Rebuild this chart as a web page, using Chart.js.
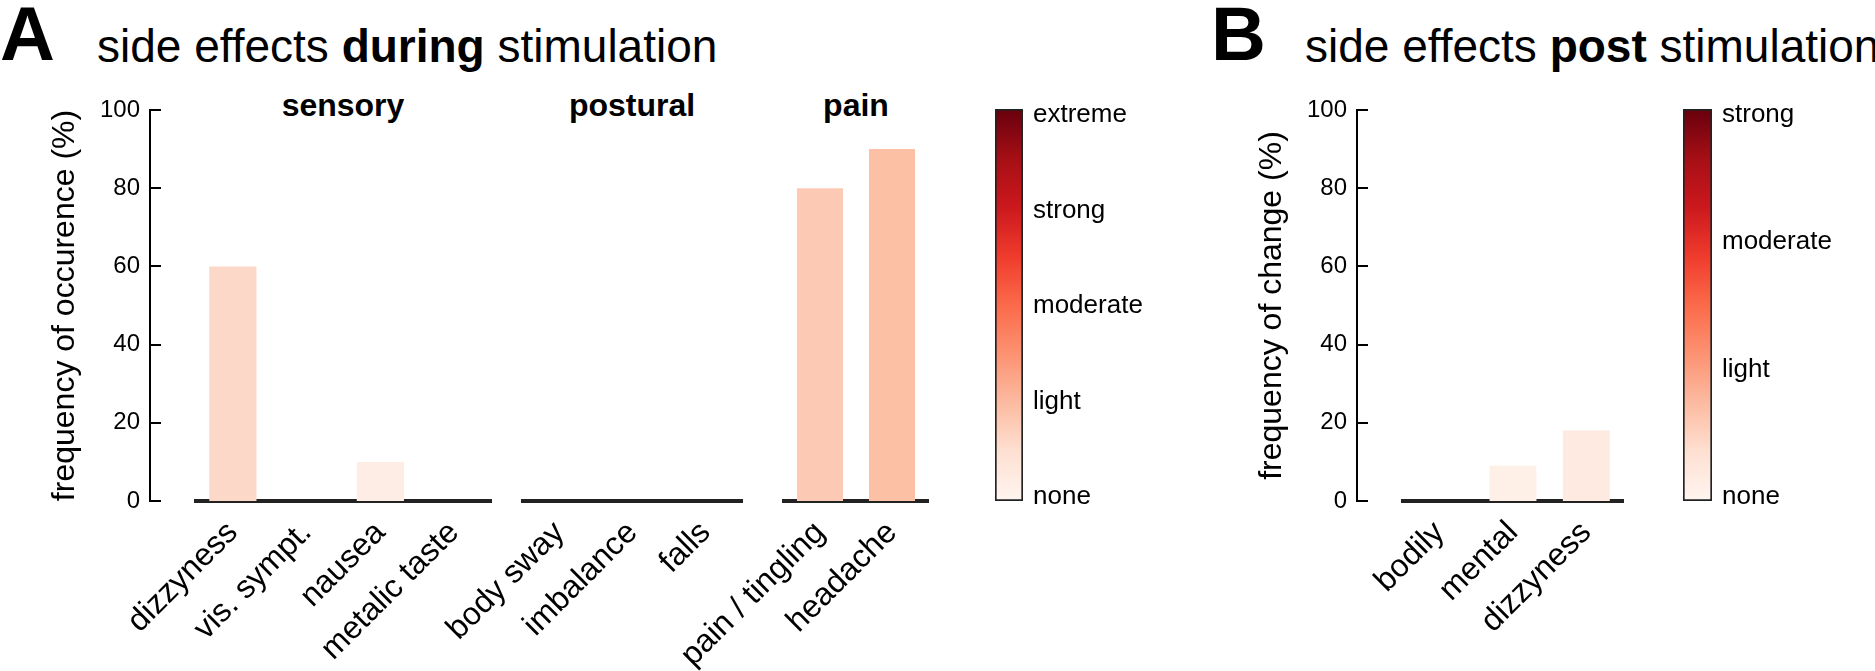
<!DOCTYPE html>
<html>
<head>
<meta charset="utf-8">
<script src="https://cdn.jsdelivr.net/npm/chart.js@4.4.1/dist/chart.umd.min.js"></script>
<style>
  body { margin: 0; background: #fff; }
  #fig { position: relative; width: 1875px; height: 671px; overflow: hidden;
         font-family: "Liberation Sans", Arial, sans-serif; color: #000; }
  #fig canvas { position: absolute; top: 0; }
  .t { position: absolute; line-height: 1; white-space: nowrap; }
  .big { font-size: 76px; font-weight: bold; top: -4px; }
  .ttl { font-size: 46px; top: 23px; }
  .hdr { font-size: 32px; font-weight: bold; top: 89px; transform: translateX(-50%); }
</style>
</head>
<body>
<div id="fig">
  <div class="t big" style="left:0px">A</div>
  <div class="t ttl" style="left:97px">side effects <b>during</b> stimulation</div>
  <div class="t big" style="left:1211px">B</div>
  <div class="t ttl" style="left:1305px">side effects <b>post</b> stimulation</div>
  <div class="t hdr" style="left:343px">sensory</div>
  <div class="t hdr" style="left:632px">postural</div>
  <div class="t hdr" style="left:856px">pain</div>

  <canvas id="aAxis"></canvas>
  <canvas id="aSensory"></canvas>
  <canvas id="aPostural"></canvas>
  <canvas id="aPain"></canvas>
  <canvas id="aBar"></canvas>
  <canvas id="bAxis"></canvas>
  <canvas id="bPost"></canvas>
  <canvas id="bBar"></canvas>
</div>

<script>
// data
const sensoryLabels = ["dizzyness", "vis. sympt.", "nausea", "metalic taste"];
const sensoryValues = [60, 0, 10, 0];
const posturalLabels = ["body sway", "imbalance", "falls"];
const posturalValues = [0, 0, 0];
const painLabels = ["pain / tingling", "headache"];
const painValues = [80, 90];
const postLabels = ["bodily", "mental", "dizzyness"];
const postValues = [0, 9, 18];
const yTicks = [0, 20, 40, 60, 80, 100];
const duringLevels = ["none", "light", "moderate", "strong", "extreme"];
const postLevels = ["none", "light", "moderate", "strong"];

// bar colours (severity on the Reds map)
const sensoryColors = ["#fcd8c8", "#fcd8c8", "#feede4", "#feede4"];
const posturalColors = ["#fff5f0", "#fff5f0", "#fff5f0"];
const painColors = ["#fccab4", "#fcc0a5"];
const postColors = ["#fff5f0", "#feefe7", "#feeae0"];
const reds = ["#fff5f0", "#fee0d2", "#fcbba1", "#fc9272", "#fb6a4a", "#ef3b2c", "#cb181d", "#a50f15", "#67000d"];

const FONT = '"Liberation Sans", Arial, sans-serif';
const H = 671, TOP = 110, BOTTOM = 501;
Chart.defaults.font.family = FONT;
Chart.defaults.color = "#000";

function place(id, left, width) {
    const c = document.getElementById(id);
    c.width = width;
    c.height = H;
    c.style.left = left + "px";
    return c;
}

const baseOpts = {
    responsive: false,
    animation: false,
    devicePixelRatio: 1,
    plugins: { legend: { display: false }, tooltip: { enabled: false } }
};

// inward tick marks on the y axis
const inTicks = {
    id: "inTicks",
    afterDraw(chart) {
        const s = chart.scales.y, ctx = chart.ctx;
        ctx.save();
        ctx.strokeStyle = "#000";
        ctx.lineWidth = 2;
        s.ticks.forEach(t => {
            const y = Math.round(s.getPixelForValue(t.value));
            ctx.beginPath();
            ctx.moveTo(s.right, y);
            ctx.lineTo(s.right + 11, y);
            ctx.stroke();
        });
        ctx.restore();
    }
};

// y axis only (ticks + title)
function axisChart(id, axisX, title) {
    const padL = 46, w = 104;
    const canvas = place(id, axisX - padL - w, padL + w + 20);
    return new Chart(canvas, {
        type: "bar",
        data: { labels: [], datasets: [] },
        options: {
            ...baseOpts,
            layout: { autoPadding: false, padding: { left: padL, right: 0, top: TOP, bottom: H - BOTTOM } },
            scales: {
                x: { display: false },
                y: {
                    min: 0, max: 100,
                    afterBuildTicks: s => { s.ticks = yTicks.map(v => ({ value: v })); },
                    afterFit: s => { s.width = w; },
                    grid: { display: false, drawTicks: false },
                    border: { display: true, color: "#000", width: 2 },
                    ticks: { padding: 10, font: { size: 24 } },
                    title: { display: true, text: title, font: { size: 32 }, padding: { top: 0, bottom: 0 } }
                }
            }
        },
        plugins: [inTicks]
    });
}

// one group of bars with its own baseline
function groupChart(id, areaLeft, areaRight, labels, values, colors) {
    const padL = 150, padR = 60;
    const canvas = place(id, areaLeft - padL, areaRight - areaLeft + padL + padR);
    return new Chart(canvas, {
        type: "bar",
        data: {
            labels: labels,
            datasets: [{ data: values, backgroundColor: colors, barPercentage: 0.64, categoryPercentage: 1 }]
        },
        options: {
            ...baseOpts,
            layout: { autoPadding: false, padding: { left: padL, right: padR, top: TOP, bottom: 0 } },
            scales: {
                x: {
                    grid: { display: false, drawTicks: false },
                    border: { display: true, color: "#222", width: 4 },
                    ticks: { minRotation: 45, maxRotation: 45, autoSkip: false, padding: 13, font: { size: 32 } },
                    afterFit: s => { s.height = H - BOTTOM; }
                },
                y: { display: false, min: 0, max: 100 }
            }
        }
    });
}

function redsGradient(chart) {
    const a = chart.chartArea;
    if (!a) return reds[0];
    const g = chart.ctx.createLinearGradient(0, a.bottom, 0, a.top);
    reds.forEach((c, i) => g.addColorStop(i / (reds.length - 1), c));
    return g;
}

// colour bar with severity labels on the right
function colorbar(id, barLeft, barWidth, levels) {
    const padL = 10, w = 150;
    const n = levels.length - 1;
    const lo = -0.0105 * n, hi = n * 1.0157;
    const canvas = place(id, barLeft - padL, padL + barWidth + w);
    return new Chart(canvas, {
        type: "bar",
        data: {
            labels: [""],
            datasets: [{
                data: [[lo, hi]],
                backgroundColor: ctx => redsGradient(ctx.chart),
                borderColor: "#222", borderWidth: 2, borderSkipped: false,
                barPercentage: 1, categoryPercentage: 1
            }]
        },
        options: {
            ...baseOpts,
            layout: { autoPadding: false, padding: { left: padL, right: 0, top: 109, bottom: H - BOTTOM } },
            scales: {
                x: { display: false },
                y: {
                    position: "right", min: lo, max: hi,
                    afterBuildTicks: s => { s.ticks = levels.map((l, i) => ({ value: i })); },
                    afterFit: s => { s.width = w; },
                    grid: { display: false, drawTicks: false },
                    border: { display: false },
                    ticks: { padding: 10, font: { size: 26 }, callback: (v, i) => levels[i] }
                }
            }
        }
    });
}

axisChart("aAxis", 150, "frequency of occurence (%)");
groupChart("aSensory", 196, 491, sensoryLabels, sensoryValues, sensoryColors);
groupChart("aPostural", 523, 742, posturalLabels, posturalValues, posturalColors);
groupChart("aPain", 784, 928, painLabels, painValues, painColors);
colorbar("aBar", 995, 28, duringLevels);

axisChart("bAxis", 1357, "frequency of change (%)");
groupChart("bPost", 1403, 1623, postLabels, postValues, postColors);
colorbar("bBar", 1683, 29, postLevels);
</script>
</body>
</html>
